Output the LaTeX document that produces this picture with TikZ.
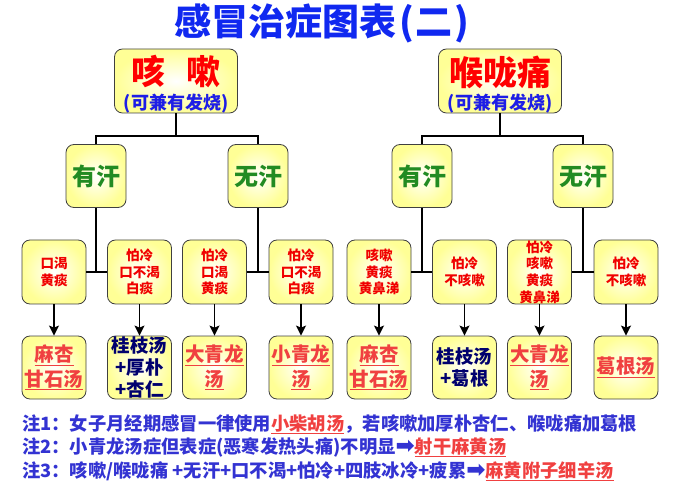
\documentclass[tikz,border=0pt]{standalone}
\usepackage{fontspec}
\setmainfont{Noto Sans CJK SC}
\newfontfamily\symfont{DejaVu Sans}
\usepackage{tikz}
\usetikzlibrary{arrows.meta, shadings}
\definecolor{boxyellow}{RGB}{255,255,150}
\definecolor{titleblue}{RGB}{16,40,240}
\definecolor{subblue}{RGB}{30,30,230}
\definecolor{sweatgreen}{RGB}{34,139,34}
\definecolor{symred}{RGB}{240,0,0}
\definecolor{rxred}{RGB}{240,64,64}
\definecolor{herbnavy}{RGB}{0,0,110}
\definecolor{noteblue}{RGB}{51,51,210}
\tikzstyle{arrow} = [line width=1.6pt, -{Stealth[length=10pt,width=10pt,inset=2pt]}]
\newcommand{\rx}[1]{\textcolor{rxred}{\underline{#1}}}
\newcommand{\notearrow}{{\symfont\fontsize{23}{20}\selectfont ➡}}

\begin{document}
\begin{tikzpicture}[x=1pt, y=-1pt,
    box/.style={rectangle, rounded corners=8pt, draw=black!75, line width=0.8pt, inner color=white, outer color=boxyellow, inner sep=0pt, align=center},
    topbox/.style={box, minimum width=123pt, minimum height=64pt},
    sweatbox/.style={box, minimum width=60pt, minimum height=63pt, font=\bfseries\fontsize{24}{26}\selectfont, text=sweatgreen},
    symbox/.style={box, minimum width=64pt, minimum height=64pt, font=\bfseries\fontsize{13.5}{16.7}\selectfont, text=symred},
    rxbox/.style={box, minimum width=64pt, minimum height=63pt, font=\bfseries\fontsize{19.5}{24.5}\selectfont, text=rxred},
    herbbox/.style={box, minimum width=64pt, minimum height=63pt, font=\bfseries\fontsize{18.5}{22}\selectfont, text=herbnavy},
    notetext/.style={anchor=west, inner sep=0pt, font=\bfseries\fontsize{18.3}{20}\selectfont, text=noteblue},
    link/.style={line width=1.6pt},
]
\useasboundingbox (0,0) rectangle (680,486);

% Title
\node[font=\bfseries\fontsize{37}{37}\selectfont, text=titleblue] (title) at (322,23) {感冒治症图表\hspace{.08em}(\hspace{.05em}二\hspace{.05em})};

% Top boxes
\node[topbox] (kesou) at (176,81) {};
\node[font=\bfseries\fontsize{34}{34}\selectfont, text=red] (kesouname) at (176,72) {咳\hspace{.6em}嗽};
\node[font=\bfseries\fontsize{18}{18}\selectfont, text=subblue] (kesounote) at (176,104) {(可兼有发烧)};
\node[topbox] (houlong) at (500,81) {};
\node[font=\bfseries\fontsize{34}{34}\selectfont, text=red] (houlongname) at (500,72) {喉咙痛};
\node[font=\bfseries\fontsize{18}{18}\selectfont, text=subblue] (houlongnote) at (500,104) {(可兼有发烧)};

% Sweat boxes
\node[sweatbox] (yh1) at (96,176) {有汗};
\node[sweatbox] (wh1) at (258,176) {无汗};
\node[sweatbox] (yh2) at (422,176) {有汗};
\node[sweatbox] (wh2) at (583,176) {无汗};

% Symptom boxes
\node[symbox] (c1) at (54,272) {口渴\\黄痰};
\node[symbox] (c2) at (139.5,272) {怕冷\\口不渴\\白痰};
\node[symbox] (c3) at (214.5,272) {怕冷\\口渴\\黄痰};
\node[symbox] (c4) at (301,272) {怕冷\\口不渴\\白痰};
\node[symbox] (c5) at (379,272) {咳嗽\\黄痰\\黄鼻涕};
\node[symbox] (c6) at (464.5,272) {怕冷\\不咳嗽};
\node[symbox] (c7) at (539.5,272) {怕冷\\咳嗽\\黄痰\\黄鼻涕};
\node[symbox] (c8) at (626,272) {怕冷\\不咳嗽};

% Prescription boxes
\node[rxbox] (r1) at (54,367.5) {\underline{麻杏}\\\underline{甘石汤}};
\node[herbbox] (r2) at (139.5,367.5) {桂枝汤\\+厚朴\\+杏仁};
\node[rxbox] (r3) at (214.5,367.5) {\underline{大青龙}\\\underline{汤}};
\node[rxbox] (r4) at (301,367.5) {\underline{小青龙}\\\underline{汤}};
\node[rxbox] (r5) at (379,367.5) {\underline{麻杏}\\\underline{甘石汤}};
\node[herbbox] (r6) at (464.5,367.5) {桂枝汤\\+葛根};
\node[rxbox] (r7) at (539.5,367.5) {\underline{大青龙}\\\underline{汤}};
\node[rxbox] (r8) at (626,367.5) {\underline{葛根汤}};

% Tree lines
\coordinate (kesoujoin) at (176,136);
\coordinate (houlongjoin) at (500,136);
\draw[link] (kesou.south) -- (kesoujoin);
\draw[link] (yh1.north) |- (kesoujoin) -| (wh1.north);
\draw[link] (houlong.south) -- (houlongjoin);
\draw[link] (yh2.north) |- (houlongjoin) -| (wh2.north);

\draw[link] (yh1.south) -- (yh1.south |- c1.east);
\draw[link] (c1.east) -- (c2.west);
\draw[link] (wh1.south) -- (wh1.south |- c3.east);
\draw[link] (c3.east) -- (c4.west);
\draw[link] (yh2.south) -- (yh2.south |- c5.east);
\draw[link] (c5.east) -- (c6.west);
\draw[link] (wh2.south) -- (wh2.south |- c7.east);
\draw[link] (c7.east) -- (c8.west);

% Arrows
\draw[arrow] (c1) -- (r1);
\draw[arrow] (c2) -- (r2);
\draw[arrow] (c3) -- (r3);
\draw[arrow] (c4) -- (r4);
\draw[arrow] (c5) -- (r5);
\draw[arrow] (c6) -- (r6);
\draw[arrow] (c7) -- (r7);
\draw[arrow] (c8) -- (r8);

% Notes
\node[notetext] (note1) at (22,424) {注1：女子月经期感冒一律使用\rx{小柴胡汤}，若咳嗽加厚朴杏仁、喉咙痛加葛根};
\node[notetext] (note2) at (22,447) {注2：小青龙汤症但表症(恶寒发热头痛)不明显\notearrow\rx{射干麻黄汤}};
\node[notetext] (note3) at (22,471) {注3：咳嗽/喉咙痛 +无汗+口不渴+怕冷+四肢冰冷+疲累\notearrow\rx{麻黄附子细辛汤}};

\end{tikzpicture}
\end{document}
